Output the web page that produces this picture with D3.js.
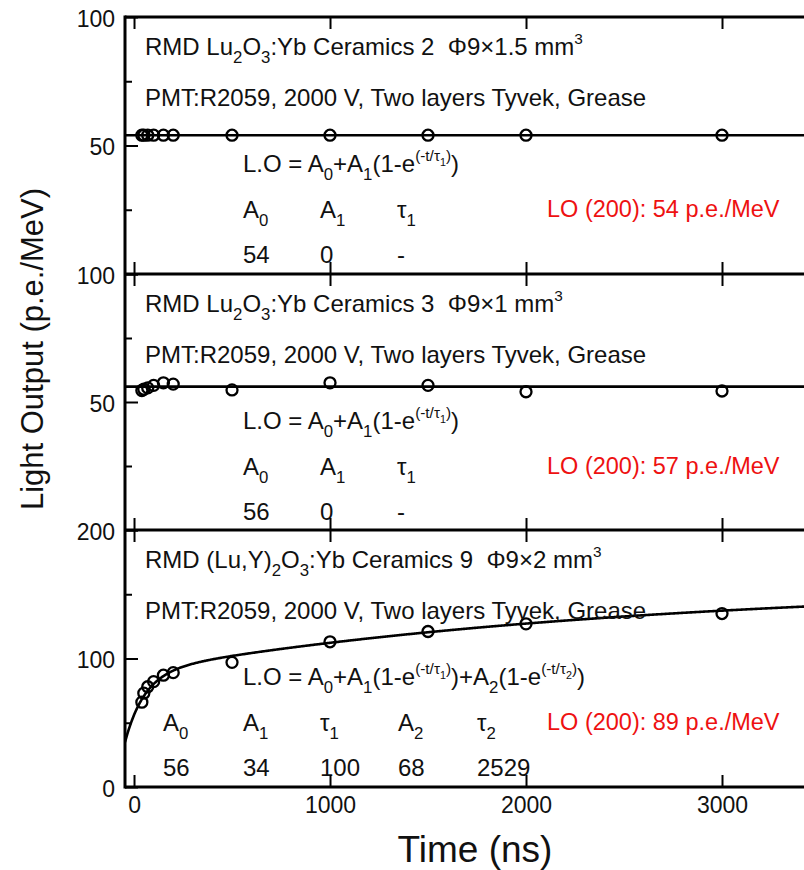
<!DOCTYPE html>
<html>
<head>
<meta charset="utf-8">
<script src="https://cdn.jsdelivr.net/npm/d3@7"></script>
<style>
  body { margin: 0; background: #fff; }
  svg { display: block; font-family: "Liberation Sans", Arial, sans-serif; }
  text { white-space: pre; }
</style>
</head>
<body>
<div id="chart"></div>
<script>
// measured points (time in ns, light output in p.e./MeV)
const times = [40, 50, 70, 100, 150, 200, 500, 1000, 1500, 2000, 3000];
const loCeramics2 = [54, 54, 54, 54, 54, 54, 54, 54, 54, 54, 54];
const loCeramics3 = [54.5, 55, 55.5, 56.5, 57.5, 57, 54.7, 57.5, 56.5, 54, 54.3];
const loCeramics9 = [66, 73, 78, 82, 87, 89, 97, 113, 121, 127, 135];

// fit parameters, one entry per panel
const fitA0 = [54, 56, 56];
const fitA1 = [0, 0, 34];
const fitTau1 = [null, null, 100];
const fitA2 = [0, 0, 68];
const fitTau2 = [null, null, 2529];

const yMax = [100, 100, 200];
const yLabelTicks = [[50, 100], [50, 100], [0, 100, 200]];
const yMajorTicks = [[0, 50, 100], [0, 50, 100], [0, 100, 200]];
const yMinorTicks = [[25, 75], [25, 75], [50, 150]];
const xTicks = [0, 1000, 2000, 3000];

const titles = [
  'RMD Lu_{2}O_{3}:Yb Ceramics 2  Φ9×1.5 mm^{3}',
  'RMD Lu_{2}O_{3}:Yb Ceramics 3  Φ9×1 mm^{3}',
  'RMD (Lu,Y)_{2}O_{3}:Yb Ceramics 9  Φ9×2 mm^{3}'
];
const setup = 'PMT:R2059, 2000 V, Two layers Tyvek, Grease';
const equations = [
  'L.O = A_{0}+A_{1}(1-e^{(-t/τ_{1})})',
  'L.O = A_{0}+A_{1}(1-e^{(-t/τ_{1})})',
  'L.O = A_{0}+A_{1}(1-e^{(-t/τ_{1})})+A_{2}(1-e^{(-t/τ_{2})})'
];
const paramHeads = [
  ['A_{0}', 'A_{1}', 'τ_{1}'],
  ['A_{0}', 'A_{1}', 'τ_{1}'],
  ['A_{0}', 'A_{1}', 'τ_{1}', 'A_{2}', 'τ_{2}']
];
const paramValues = [
  ['54', '0', '-'],
  ['56', '0', '-'],
  ['56', '34', '100', '68', '2529']
];
const loLabels = ['LO (200): 54 p.e./MeV', 'LO (200): 57 p.e./MeV', 'LO (200): 89 p.e./MeV'];

const width = 804, height = 870;
const left = 125, right = 820;
const edges = [17, 274, 530, 787];
const series = [loCeramics2, loCeramics3, loCeramics9];

const svg = d3.select('#chart').append('svg')
  .attr('width', width)
  .attr('height', height);

const x = d3.scaleLinear().domain([-46, 3500]).range([left, right]);

// draws "a_{b}" / "a^{b}" markup as tspans
function richText(sel, str, size) {
  const stack = [{ size, off: 0 }];
  let prev = 0;
  let buf = '';
  const flush = () => {
    if (!buf) return;
    const cur = stack[stack.length - 1];
    sel.append('tspan')
      .attr('font-size', cur.size)
      .attr('dy', cur.off - prev)
      .text(buf);
    prev = cur.off;
    buf = '';
  };
  for (let i = 0; i < str.length; i++) {
    const c = str[i];
    if ((c === '_' || c === '^') && str[i + 1] === '{') {
      flush();
      const p = stack[stack.length - 1];
      const off = p.off + (c === '_' ? p.size * 0.32 : -p.size * 0.45);
      stack.push({ size: p.size * (c === '_' ? 0.7 : 0.64), off });
      i++;
    } else if (c === '}') {
      flush();
      stack.pop();
    } else {
      buf += c;
    }
  }
  flush();
}

function fitValue(k, t) {
  let v = fitA0[k];
  if (fitTau1[k]) v += fitA1[k] * (1 - Math.exp(-t / fitTau1[k]));
  if (fitTau2[k]) v += fitA2[k] * (1 - Math.exp(-t / fitTau2[k]));
  return v;
}

const fontSize = 24;

series.forEach((values, k) => {
  const top = edges[k], bottom = edges[k + 1];
  const y = d3.scaleLinear().domain([0, yMax[k]]).range([bottom, top]);

  const clipId = `clip${k}`;
  svg.append('clipPath').attr('id', clipId)
    .append('rect')
    .attr('x', left).attr('y', top)
    .attr('width', right - left).attr('height', bottom - top);

  const g = svg.append('g');

  // inward y ticks
  g.append('g')
    .attr('transform', `translate(${left},0)`)
    .call(d3.axisRight(y).tickValues(yMajorTicks[k]).tickSize(13).tickFormat(''))
    .call((a) => a.select('.domain').remove())
    .selectAll('line').attr('stroke-width', 2);
  g.append('g')
    .attr('transform', `translate(${left},0)`)
    .call(d3.axisRight(y).tickValues(yMinorTicks[k]).tickSize(7).tickFormat(''))
    .call((a) => a.select('.domain').remove())
    .selectAll('line').attr('stroke-width', 2);

  // y tick labels
  g.append('g')
    .attr('transform', `translate(${left},2)`)
    .call(d3.axisLeft(y).tickValues(yLabelTicks[k]).tickSize(0).tickPadding(10))
    .call((a) => a.select('.domain').remove())
    .selectAll('text')
    .attr('font-family', null)
    .attr('font-size', 23)
    .attr('fill', '#111');

  // fit curve
  const tSamples = d3.range(-46, 3501, 4);
  const line = d3.line()
    .x((t) => x(t))
    .y((t) => y(fitValue(k, t)));
  g.append('path')
    .attr('clip-path', `url(#${clipId})`)
    .attr('d', line(tSamples))
    .attr('fill', 'none')
    .attr('stroke', '#000')
    .attr('stroke-width', 2.6);

  // data points
  g.append('g')
    .selectAll('circle')
    .data(times)
    .join('circle')
    .attr('cx', (t) => x(t))
    .attr('cy', (t, i) => y(values[i]))
    .attr('r', 5.5)
    .attr('fill', 'none')
    .attr('stroke', '#000')
    .attr('stroke-width', 2.3);

  // annotations
  const tx = (xPos, yOff) => g.append('text')
    .attr('x', xPos).attr('y', top + yOff)
    .attr('font-size', fontSize)
    .attr('fill', '#111');

  richText(tx(145, 38), titles[k], fontSize);
  richText(tx(145, 89), setup, fontSize);
  richText(tx(243, 155), equations[k], fontSize);

  const cols = paramHeads[k].length === 3 ? [243, 320, 397] : [163, 243, 320, 398, 477];
  paramHeads[k].forEach((h, i) => richText(tx(cols[i], 201), h, fontSize));
  paramValues[k].forEach((v, i) => richText(tx(cols[i], 246), v, fontSize));

  tx(547, 200).attr('fill', '#ee1111').attr('font-size', 23.5).text(loLabels[k]);
});

// frame lines
const frame = svg.append('g').attr('stroke', '#000').attr('stroke-width', 3);
frame.append('line')
  .attr('x1', left).attr('x2', left)
  .attr('y1', edges[0] - 1.5).attr('y2', edges[3] + 1.5);
frame.selectAll('line.h')
  .data(edges)
  .join('line')
  .attr('class', 'h')
  .attr('x1', left).attr('x2', width)
  .attr('y1', (d) => d).attr('y2', (d) => d);

// x ticks on every panel edge
edges.forEach((e, i) => {
  if (i < edges.length - 1) {
    svg.append('g')
      .attr('transform', `translate(0,${e})`)
      .call(d3.axisBottom(x).tickValues(xTicks).tickSize(12).tickFormat(''))
      .call((a) => a.select('.domain').remove())
      .selectAll('line').attr('stroke-width', 2);
  }
  if (i > 0) {
    svg.append('g')
      .attr('transform', `translate(0,${e})`)
      .call(d3.axisTop(x).tickValues(xTicks).tickSize(12).tickFormat(''))
      .call((a) => a.select('.domain').remove())
      .selectAll('line').attr('stroke-width', 2);
  }
});

// x tick labels
svg.append('g')
  .attr('transform', `translate(0,${edges[3]})`)
  .call(d3.axisBottom(x).tickValues(xTicks).tickSize(0).tickPadding(10).tickFormat(d3.format('d')))
  .call((a) => a.select('.domain').remove())
  .selectAll('text')
  .attr('font-family', null)
  .attr('font-size', 23)
  .attr('fill', '#111');

// axis titles
svg.append('text')
  .attr('x', 475).attr('y', 862)
  .attr('text-anchor', 'middle')
  .attr('font-size', 37)
  .attr('fill', '#111')
  .text('Time (ns)');

svg.append('text')
  .attr('transform', 'translate(43,349) rotate(-90)')
  .attr('text-anchor', 'middle')
  .attr('font-size', 31)
  .attr('fill', '#111')
  .text('Light Output (p.e./MeV)');
</script>
</body>
</html>
